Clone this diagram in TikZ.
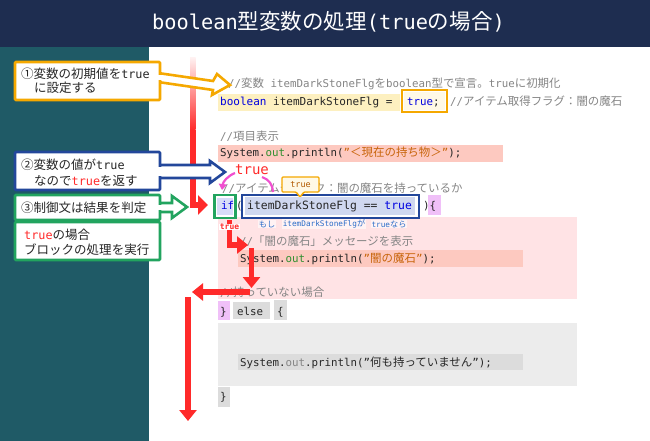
\documentclass[tikz,border=0pt]{standalone}
\usepackage{fontspec}
\usepackage{xcolor}
\setmainfont{DejaVu Sans Mono}
\newfontfamily\cjk[Scale=1.06]{Noto Sans CJK JP}
\usetikzlibrary{arrows.meta}
\definecolor{navy}{HTML}{1E2D50}
\definecolor{teal}{HTML}{1F5A66}
\definecolor{cmt}{HTML}{858585}
\definecolor{kw}{HTML}{0000E0}
\definecolor{okgreen}{HTML}{2F8F2F}
\definecolor{strc}{HTML}{C8640A}
\definecolor{linered}{HTML}{FF2A2A}
\definecolor{orangeb}{HTML}{F5A800}
\definecolor{blueb}{HTML}{23479B}
\definecolor{greenb}{HTML}{22A45F}
\definecolor{magen}{HTML}{F050D0}
\definecolor{smallb}{HTML}{2A6CC8}
\definecolor{yellowbg}{HTML}{FDF0C0}
\definecolor{creambg}{HTML}{FFF9E6}
\definecolor{salmonbg}{HTML}{FDC9C0}
\definecolor{pinkbg}{HTML}{FFE3E5}
\definecolor{bluebg}{HTML}{D0D8F0}
\definecolor{ifbg}{HTML}{D8DCF8}
\definecolor{purplebg}{HTML}{F0C0F8}
\definecolor{graybg}{HTML}{ECECEC}
\definecolor{grayrow}{HTML}{DCDCDC}
\newcommand{\jp}[1]{{\cjk #1}}
\newcommand{\cc}[1]{\textcolor{cmt}{#1}}
\newcommand{\kw}[1]{\textcolor{kw}{#1}}
\newcommand{\rd}[1]{\textcolor{linered}{#1}}
\tikzset{
  code/.style={anchor=base west, inner sep=0pt, font=\fontsize{10.8}{12}\selectfont, text=black!85},
  note/.style={anchor=base west, inner sep=0pt, align=left, font=\fontsize{11.8}{18}\selectfont, text=black!85},
  tiny/.style={anchor=center, inner sep=0.6pt, font=\fontsize{7.7}{9}\selectfont, text=smallb, fill=white, fill opacity=0.6, text opacity=1},
  bar/.style={line width=5.2pt, draw=linered, -{Triangle[length=11pt,width=17pt]}},
  call/.style={draw=#1, fill=white, line width=2.8pt, line join=round, rounded corners=1pt},
  tail/.style={draw=#1, fill=white, line width=2.6pt, line join=miter},
}
\begin{document}
\begin{tikzpicture}[x=1pt,y=-1pt]
  \useasboundingbox (0,0) rectangle (650,441);
  \fill[white] (0,0) rectangle (650,441);
  \fill[teal] (0,47) rectangle (149,441);
  \fill[navy] (0,0) rectangle (650,47);
  \node[anchor=center, text=white, font=\fontsize{20.3}{24}\selectfont] (title) at (328.5,22) {boolean\jp{型変数の処理}(true\jp{の場合})};
  % backgrounds of the code
  \fill[yellowbg] (218,94) rectangle (400,111);
  \fill[creambg] (404,92) rectangle (445,110);
  \fill[salmonbg] (218,145) rectangle (503,162);
  \fill[pinkbg] (218,217) rectangle (577,299);
  \fill[salmonbg] (238,250) rectangle (523,267);
  \fill[bluebg] (245,197) rectangle (415,215);
  \fill[ifbg] (217,198) rectangle (233,215);
  \fill[purplebg] (428,195) rectangle (441,215);
  \fill[purplebg] (218,301) rectangle (230,320);
  \fill[grayrow] (233,302) rectangle (270,319);
  \fill[grayrow] (274,300) rectangle (287,320);
  \fill[graybg] (218,323) rectangle (577,386);
  \fill[grayrow] (238,354) rectangle (523,370);
  \fill[grayrow] (218,387) rectangle (230,407);
  % code
  \node[code] (line1) at (228,88) {\cc{//\jp{変数} itemDarkStoneFlg\jp{を}boolean\jp{型で宣言。}true\jp{に初期化}}};
  \node[code, font=\fontsize{11}{12}\selectfont] (line2) at (220,106) {\kw{boolean} itemDarkStoneFlg =};
  \node[code] (line2b) at (407,106) {\kw{true};};
  \node[code] (line2c) at (450,106) {\cc{//\jp{アイテム取得フラグ：闇の魔石}}};
  \node[code] (line3) at (220,140) {\cc{//\jp{項目表示}}};
  \node[code] (line4) at (220,157) {System.\textcolor{okgreen}{out}.println(\textcolor{strc}{"\jp{＜現在の持ち物＞}"});};
  \node[code] (line5) at (222,192) {\cc{//\jp{アイテムチェック：闇の魔石を持っているか}}};
  \node[code] (line6) at (221,209) {\kw{if}};
  \node[code] (line6b) at (236,209) {(};
  \node[code, font=\fontsize{11.4}{12}\selectfont] (line6c) at (247,209) {itemDarkStoneFlg == \kw{true}};
  \node[code] (line6d) at (423,209) {)\{};
  \node[code] (line7) at (240,245) {\cc{//\jp{「闇の魔石」メッセージを表示}}};
  \node[code] (line8) at (240,262) {System.\textcolor{okgreen}{out}.println(\textcolor{strc}{"\jp{闇の魔石}"});};
  \node[code] (line9) at (220,296) {\cc{//\jp{持っていない場合}}};
  \node[code] (line10) at (220,315) {\}};
  \node[code] (line11) at (237,315) {else};
  \node[code] (line12) at (277,315) {\{};
  \node[code] (line13) at (240,366) {System.\textcolor{cmt}{out}.println("\jp{何も持っていません}");};
  \node[code] (line14) at (220,400) {\}};
  \node[tiny] (moshi) at (267,224) {\jp{もし}};
  \node[tiny] (ifflag) at (324,224) {itemDarkStoneFlg\jp{が}};
  \node[tiny] (ifnara) at (389,224) {true\jp{なら}};
  % boxes round the code
  \draw[orangeb, line width=2.6pt] (402,90) rectangle (447,112);
  \draw[greenb, line width=2.6pt] (214.5,195) rectangle (235.5,218);
  \draw[blueb, line width=2.6pt] (242,195) rectangle (419,218);
  % tooltip
  \draw[orangeb, fill=creambg, line width=1.4pt, rounded corners=1pt] (282,177) -- (319,177) -- (319,192) -- (304,192) -- (300,197) -- (296,192) -- (282,192) -- cycle;
  \node[anchor=center, inner sep=0pt, font=\fontsize{8.5}{9}\selectfont, text=orange!70!black] (tip) at (300.5,185) {true};
  % red flow
  \shade[top color=red!6, bottom color=linered] (190,58) rectangle (195.5,130);
  \fill[linered] (190,130) rectangle (195.5,207);
  \coordinate (flowA) at (190,205);
  \coordinate (flowB) at (208,205);
  \draw[bar, -{Triangle[length=10pt,width=19pt]}] (flowA) -- (flowB);
  \coordinate (thenA) at (229.5,220);
  \coordinate (thenB) at (229.5,245);
  \coordinate (thenC) at (248,245);
  \draw[bar] (thenA) -- (thenB) -- (thenC);
  \coordinate (downA) at (251.5,248);
  \coordinate (downB) at (251.5,288);
  \draw[bar] (downA) -- (downB);
  \coordinate (leftA) at (250,292);
  \coordinate (leftB) at (192,292);
  \draw[bar] (leftA) -- (leftB);
  \coordinate (endA) at (188,297);
  \coordinate (endB) at (188,421);
  \draw[bar] (endA) -- (endB);
  \node[anchor=center, inner sep=0.6pt, fill=white, text=linered, font=\bfseries\fontsize{8}{9}\selectfont] (smalltrue) at (229.5,227) {true};
  % magenta
  \node[anchor=center, inner sep=0pt, text=linered, font=\fontsize{14}{16}\selectfont] (bigtrue) at (252,170) {true};
  \draw[magen, line width=2.2pt, -{Triangle[length=6pt,width=8pt]}] (235,173) to[bend right=30] (222,190);
  \draw[magen, line width=2.2pt] (262,177) to[bend left=35] (273,192);
  % callouts
  \draw[tail=orangeb] (158,73) -- (213,81) -- (217,74) -- (230,85) -- (212,95) -- (213,90) -- (158,82);
  \draw[call=orangeb] (15,62) rectangle (160,100);
  \fill[white] (155,74.6) rectangle (163,80.4);
  \node[note] (noteA) at (21,79) {\jp{①変数の初期値を}true};
  \node[note] (noteAb) at (34,93) {\jp{に設定する}};
  \draw[tail=blueb] (158,165) -- (210,165) -- (210,161) -- (225,172) -- (210,183) -- (210,178) -- (158,178);
  \draw[call=blueb] (15,152) rectangle (160,190);
  \fill[white] (155,166.6) rectangle (163,176.4);
  \node[note] (noteB) at (21,169) {\jp{②変数の値が}true};
  \node[note] (noteBb) at (34,185) {\jp{なので}\rd{true}\jp{を返す}};
  \draw[tail=greenb] (158,203) -- (172,203) -- (172,196) -- (187,207) -- (172,218) -- (172,212) -- (158,212);
  \draw[call=greenb] (15,195) rectangle (160,220);
  \fill[white] (155,204.6) rectangle (163,210.4);
  \node[note] (noteC) at (21,212) {\jp{③制御文は結果を判定}};
  \draw[call=greenb] (15,222) rectangle (160,260);
  \node[note] (noteD) at (24,239) {\rd{true}\jp{の場合}};
  \node[note] (noteDb) at (24,254) {\jp{ブロックの処理を実行}};
\end{tikzpicture}
\end{document}
